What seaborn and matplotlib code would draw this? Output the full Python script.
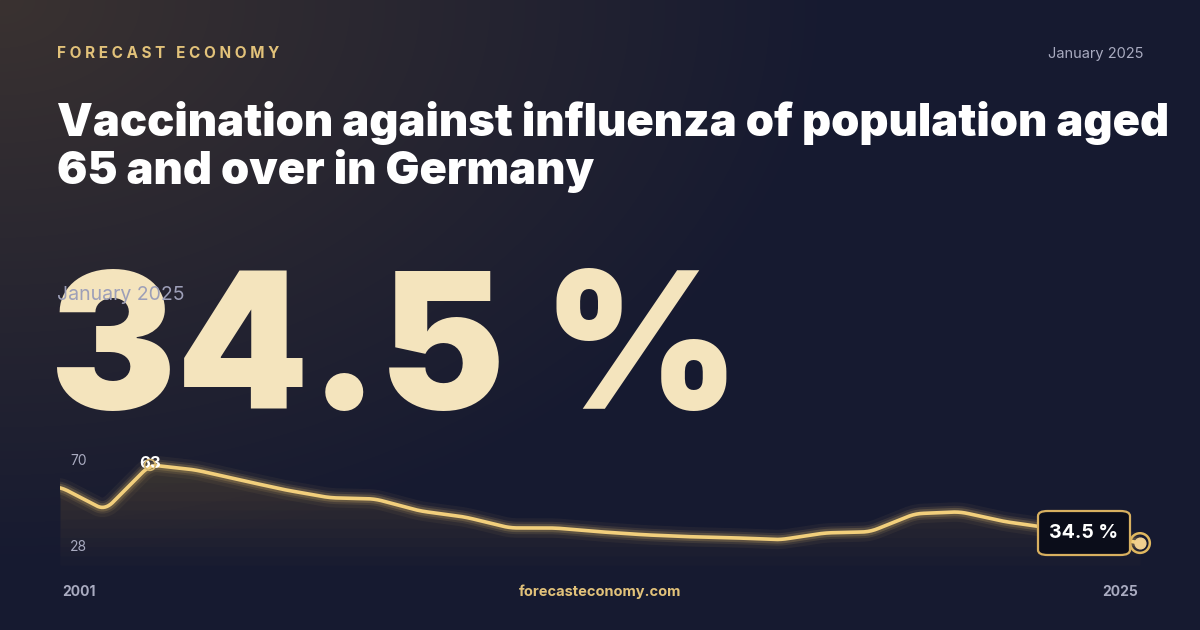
import numpy as np
import pandas as pd
import matplotlib
matplotlib.use("Agg")
import matplotlib.pyplot as plt
import seaborn as sns
from matplotlib.patches import FancyBboxPatch

years = list(range(2001, 2026))
values = [55, 46.5, 63, 61.2, 57.5, 53.9, 51, 50.6, 46.2, 44, 40, 40, 38.6, 37.5,
          36.8, 36.4, 35.7, 38.2, 38.6, 45.2, 45.9, 42.3, 40, 37.5, 34.5]
df = pd.DataFrame({"year": years, "value": values})

title = "Vaccination against influenza of population aged\n65 and over in Germany"
headline = "34.5 %"
date_label = "January 2025"

sns.set_theme(style="white")
plt.rcParams["font.family"] = ["Inter", "DejaVu Sans"]

fig = plt.figure(figsize=(12, 6.3), dpi=100)
fig.patch.set_facecolor("#161a30")

# background with a warm glow top-left
bg = fig.add_axes([0, 0, 1, 1], zorder=-10)
yy, xx = np.mgrid[0:630, 0:1200]
d = np.sqrt((xx / 1200) ** 2 + (yy / 630) ** 2 * 0.6)
glow = np.clip(1 - d / 0.7, 0, 1)
base = np.array([0x16, 0x1a, 0x30]) / 255
warm = np.array([0x3a, 0x32, 0x30]) / 255
img = base[None, None, :] * (1 - glow[..., None]) + warm[None, None, :] * glow[..., None]
bg.imshow(img, aspect="auto", extent=[0, 1, 0, 1], origin="upper")
bg.axis("off")

fig.text(57 / 1200, 1 - 53 / 630, "F O R E C A S T   E C O N O M Y", color="#e2c27a",
         fontsize=11, fontweight="bold", va="center")
fig.text(1143 / 1200, 1 - 54 / 630, date_label, color="#a9abc0", fontsize=10.5,
         ha="right", va="center")
fig.text(57 / 1200, 1 - 147 / 630, title, color="white", fontsize=32.5, fontweight="black",
         va="center", linespacing=1.12)
fig.text(50 / 1200, 1 - 409 / 630, headline, color="#f4e4bd", fontsize=136,
         fontweight="black", va="baseline", zorder=1)
fig.text(57 / 1200, 1 - 295 / 630, date_label, color="#9d9fb8", fontsize=14,
         va="center", zorder=2)

ax = fig.add_axes([60 / 1200, 65 / 630, 1080 / 1200, 110 / 630])
ax.set_facecolor("none")
ymin, ymax = 26.5, 66.6
ax.set_ylim(ymin, ymax)
ax.set_xlim(2001, 2025)

# lightly smoothed curve through values
xs = np.linspace(2001, 2025, 600)
ys_lin = np.interp(xs, df.year, df.value)
k = np.ones(9) / 9
ys = np.convolve(np.pad(ys_lin, 4, mode="edge"), k, mode="valid")
smooth = pd.DataFrame({"year": xs, "value": ys})

for lw, a in [(14, 0.05), (9, 0.1), (6, 0.18)]:
    ax.plot(smooth.year, smooth.value, color="#f0c870", lw=lw, alpha=a, solid_capstyle="round")
sns.lineplot(data=smooth, x="year", y="value", ax=ax, color="#f2cf7c", lw=2.6)
for i in range(12):
    lo = ymin + (ymax - ymin) * i / 12
    ax.fill_between(smooth.year, lo, np.maximum(smooth.value, lo), color="#c8a060",
                    alpha=0.02, lw=0)
ax.axis("off")

peak_i = int(np.argmax(values))
ax.scatter([years[peak_i]], [values[peak_i]], s=60, facecolor="none",
           edgecolor="#d8b870", lw=1.2, zorder=5)
ax.text(years[peak_i], values[peak_i] + 0.5, "63", color="white", fontsize=12,
        fontweight="bold", ha="center", va="center")
ax.scatter([2025], [values[-1]], s=200, facecolor="none", edgecolor="#e0b860", lw=1.8,
           zorder=5, clip_on=False)
ax.scatter([2025], [values[-1]], s=60, color="#f0d090", zorder=6, clip_on=False)

box = FancyBboxPatch((1038 / 1200, 1 - 555 / 630), 92 / 1200, 44 / 630,
                     boxstyle="round,pad=0,rounding_size=0.008", transform=fig.transFigure,
                     facecolor="#0b0d1a", edgecolor="#d8b060", lw=1.6, zorder=20)
fig.patches.append(box)
fig.text(1084 / 1200, 1 - 533 / 630, "34.5 %", color="white", fontsize=14,
         fontweight="bold", ha="center", va="center", zorder=21)

fig.text(70 / 1200, 1 - 461 / 630, "70", color="#a9abc0", fontsize=10, va="center")
fig.text(70 / 1200, 1 - 547 / 630, "28", color="#a9abc0", fontsize=10, va="center")
fig.text(62 / 1200, 1 - 592 / 630, "2001", color="#a9abc0", fontsize=10, va="center",
         fontweight="bold")
fig.text(1138 / 1200, 1 - 592 / 630, "2025", color="#a9abc0", fontsize=10, va="center",
         ha="right", fontweight="bold")
fig.text(0.5, 1 - 592 / 630, "forecasteconomy.com", color="#e2c27a", fontsize=10.5,
         va="center", ha="center", fontweight="bold")

fig.savefig("out.png", dpi=100, facecolor=fig.get_facecolor())
